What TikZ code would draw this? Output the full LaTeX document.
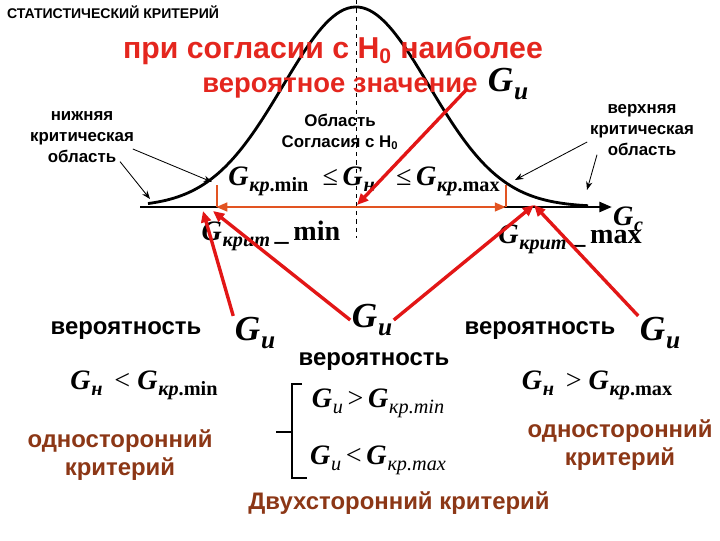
\documentclass[tikz,border=0pt]{standalone}
\usepackage{fontspec}
\usepackage{graphicx}
\setmainfont{Liberation Serif}
\newfontfamily\arl{Liberation Sans}
\usetikzlibrary{arrows.meta}

\definecolor{ttlred}{RGB}{228,38,30}
\definecolor{arrred}{RGB}{226,22,22}
\definecolor{tickor}{RGB}{226,84,34}
\definecolor{brn}{RGB}{140,55,22}

\newcommand{\Gs}[1]{\textbf{\textit{G}}\kern0.5pt\raisebox{-0.45ex}{\scalebox{0.72}{#1}}}
\newcommand{\kr}[1]{кр{\upshape.#1}}

\tikzset{
	hdr/.style={font=\arl\bfseries\fontsize{10}{12}\selectfont},
	ttl/.style={font=\arl\bfseries\fontsize{21.5}{24}\selectfont, text=ttlred},
	ttlb/.style={font=\arl\bfseries\fontsize{19.5}{24}\selectfont, text=ttlred},
	lbl/.style={font=\arl\bfseries\fontsize{12}{15}\selectfont, align=center},
	prob/.style={font=\arl\bfseries\fontsize{17}{19}\selectfont},
	crit/.style={font=\arl\bfseries\fontsize{17}{20}\selectfont, text=brn, align=center},
	frm/.style={font=\bfseries\itshape\fontsize{20}{22}\selectfont, inner sep=1pt},
	bigG/.style={font=\bfseries\itshape\fontsize{25}{28}\selectfont, inner sep=1pt},
	redarr/.style={draw=arrred, line width=2.4pt, -{Triangle[length=8pt,width=7pt]}},
	blkarr/.style={draw=black, line width=0.6pt, -{Stealth[length=6pt]}},
}

\begin{document}
\begin{tikzpicture}[x=0.025cm, y=0.025cm, yscale=-1]
	\useasboundingbox (0, 0) rectangle (720, 540);

	% curve and axis
	\draw [dashed, line width=0.5pt] (356, 0) to (356, 238);
	\draw [line width=2pt] plot [domain=148:588, samples=120] (\x, {207-200*exp(-((\x-356)/73)^2/2)});
	\draw [line width=2pt, -{Triangle[length=9pt,width=7pt]}] (140, 207) to (612, 207);

	\coordinate (cen) at (356, 207);
	\coordinate (lo) at (216, 207);
	\coordinate (hi) at (506, 207);
	\draw [draw=tickor, line width=1pt] (217, 185) to (217, 207);
	\draw [draw=tickor, line width=1pt] (506, 185) to (506, 207);
	\draw [draw=tickor, line width=2pt, -{Triangle[length=8pt,width=6pt]}] (cen) to (lo);
	\draw [draw=tickor, line width=2pt, -{Triangle[length=8pt,width=6pt]}] (cen) to (hi);

	% titles
	\node [hdr] (head) at (113, 12) {СТАТИСТИЧЕСКИЙ КРИТЕРИЙ};
	\node [ttl] (ttl1) at (333, 51) {при согласии с H\textsubscript{0} наиболее};
	\node [ttlb] (ttl2) at (340, 88) {вероятное значение};
	\node [bigG] (gTop) at (508, 84) {\Gs{и}};

	% regions
	\node [lbl] (lowreg) at (82, 137) {нижняя\\критическая\\область};
	\node [lbl] (upreg) at (642, 130) {верхняя\\критическая\\область};
	\node [lbl] (agree) at (340, 132) {Область\\Согласия с H\textsubscript{0}};

	\draw [blkarr] (lowreg.south) ++(38, -6) to (150, 199);
	\draw [blkarr] (lowreg.east) ++(-6, 12) to (212, 182);
	\draw [blkarr] (upreg.west) ++(2, 12) to (515, 180);
	\draw [blkarr] (upreg.south) ++(-45, -6) to (587, 190);

	% formulas on the axis
	\node [frm] (ineq) at (364, 181) {\Gs{\kr{min}}\ \ {\upshape\mdseries ≤}\,\Gs{н}\ \ \ {\upshape\mdseries ≤}\,\Gs{\kr{max}}};
	\node [frm] (gmin) at (271, 236) {\Gs{крит}\,{\upshape\_\,min}};
	\node [frm] (gmax) at (570, 239) {\Gs{крит}\,{\upshape\_\,max}};
	\node [frm] (gax) at (628, 219) {\Gs{с}};

	% probabilities
	\node [prob] (prob1) at (126, 331) {вероятность};
	\node [bigG] (gL) at (255, 333) {\Gs{и}};
	\node [bigG] (gC) at (372, 320) {\Gs{и}};
	\node [prob] (prob2) at (374, 362) {вероятность};
	\node [prob] (prob3) at (540, 331) {вероятность};
	\node [bigG] (gR) at (660, 333) {\Gs{и}};

	\node [frm] (lessmin) at (144, 385) {\Gs{н}\ \,{\upshape\mdseries <}\ \Gs{\kr{min}}};
	\node [frm] (grmax) at (597, 385) {\Gs{н}\ \,{\upshape\mdseries >}\ \Gs{\kr{max}}};

	% two-sided
	\draw [line width=1.5pt] (302, 384) to (292, 384) to (292, 478) to (307, 478);
	\draw [line width=1.5pt] (292, 432) to (276, 432);
	\node [frm] (twoA) at (378, 403) {\Gs{\mdseries и}\,{\upshape\mdseries >}\,\Gs{\mdseries кр.min}};
	\node [frm] (twoB) at (378, 460) {\Gs{\mdseries и}\,{\upshape\mdseries <}\,\Gs{\mdseries кр.max}};

	\node [crit] (one1) at (120, 455) {односторонний\\критерий};
	\node [crit] (one2) at (620, 445) {односторонний\\критерий};
	\node [crit] (two) at (399, 503) {Двухсторонний критерий};

	% red pointers
	\coordinate (tip) at (467, 89);
	\coordinate (pL) at (203, 211);
	\coordinate (pC) at (213, 211);
	\coordinate (pR) at (534, 205);
	\draw [redarr] (tip) to (357, 205);
	\draw [redarr] (gL.north west) to (pL);
	\draw [redarr] (gC.west) to (pC);
	\draw [redarr] (gC.east) to (pR);
	\draw [redarr] (gR.north west) to (pR);
\end{tikzpicture}
\end{document}
